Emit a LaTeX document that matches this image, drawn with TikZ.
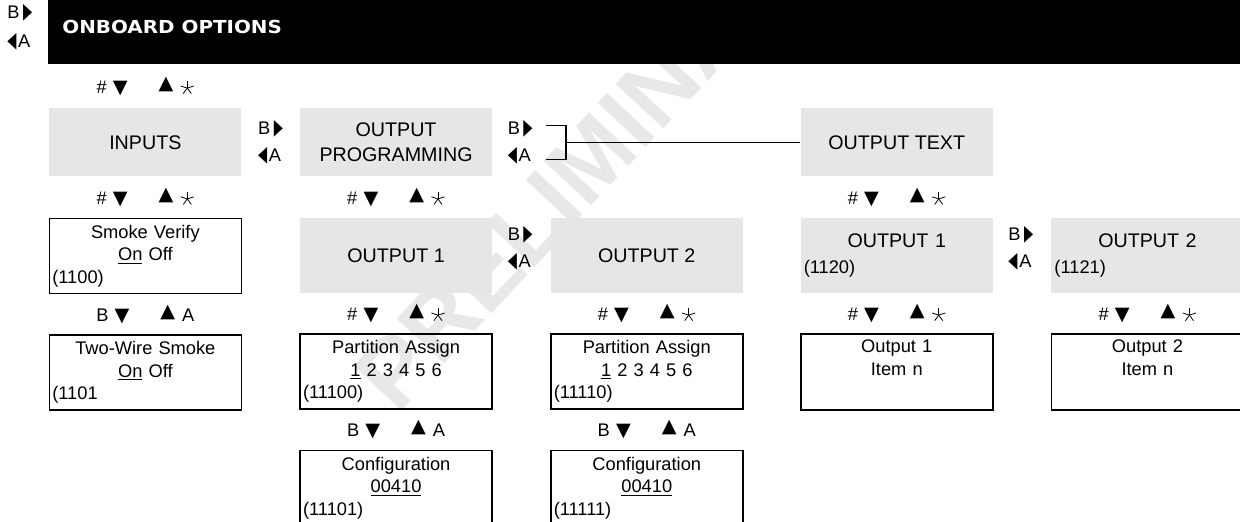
\documentclass[tikz,border=0pt]{standalone}
\usepackage{fontspec}
\setmainfont{Liberation Sans}
\newfontfamily\symfont{DejaVu Sans}
\newfontfamily\headfont{DejaVu Sans}
\usetikzlibrary{positioning,calc}
\definecolor{menugray}{RGB}{230,230,230}
\definecolor{wmgray}{RGB}{232,232,232}

\newcommand{\titlesize}{\fontsize{11.2}{14.2}\selectfont}
\newcommand{\bodysize}{\fontsize{10.4}{12.75}\selectfont}
\newcommand{\tridn}{{\symfont\scalebox{1.05}{▼}}}
\newcommand{\triup}{\raisebox{2.3pt}{\symfont\scalebox{1.05}{▲}}}
\newcommand{\trirt}{{\symfont\scalebox{0.65}[1.2]{▶}}}
\newcommand{\trilt}{{\symfont\scalebox{0.65}[1.2]{◀}}}
\newcommand{\keystar}{\tikz[baseline=0pt, line width=0.45pt]{\foreach \ang in {90,162,234,306,378} \draw (0,3pt) -- +(\ang:3.9pt);}}
\newcommand{\navdown}[2]{#1\hspace{3.5pt}\tridn\hspace{0.62cm}\triup\hspace{4pt}#2}
\newcommand{\navside}{B\hspace{2pt}\trirt\\\trilt\hspace{1pt}A}
\newcommand{\idcode}[1]{\makebox[\hsize][l]{#1}}

\begin{document}
\begin{tikzpicture}[node distance=0.8cm and 1.16cm]
\tikzstyle{menu} = [rectangle, fill=menugray, minimum width=3.84cm, minimum height=1.5cm, align=center, font=\titlesize];
\tikzstyle{entry} = [rectangle, draw, line width=0.85pt, text width=3.72cm, inner xsep=0.06cm, minimum height=1.5cm, align=center, font=\bodysize];
\tikzstyle{navkey} = [inner sep=0pt, font=\bodysize];
\tikzstyle{sidekey} = [inner sep=0pt, align=left, font=\fontsize{10.4}{15.3}\selectfont];

\useasboundingbox (0,0) rectangle (24.8,-10.42);
\clip (0,0) rectangle (24.8,-10.42);

% watermark
\node (wmark) [rotate=47, text=wmgray, font=\fontsize{54}{54}\selectfont\bfseries] at (11.9,-3.1) {PRELIMINARY};

% header bar
\node (header) [fill=black, inner sep=0pt, minimum width=23.84cm, minimum height=1.28cm, anchor=north west] at (0.96,0) {};
\node (title) [anchor=west, inner sep=0pt, text=white, font=\headfont\bfseries\fontsize{10.2}{12}\selectfont] at ([xshift=0.28cm,yshift=0.1cm]header.west) {\scalebox{1.11}[1]{ONBOARD OPTIONS}};
\node (headkey) [sidekey, font=\fontsize{10.4}{16.4}\selectfont, anchor=west] at (0.14,-0.55) {\navside};

% menus
\node (inputs) [menu, minimum height=1.36cm, anchor=north west] at (0.98,-2.16) {INPUTS};
\node (outprog) [menu, minimum height=1.36cm, right=of inputs] {OUTPUT\\PROGRAMMING};
\node (outtext) [menu, minimum height=1.36cm, right=6.16cm of outprog] {OUTPUT TEXT};

\node (smoke) [entry, below=0.82cm of inputs] {Smoke Verify\\\underline{On} Off\\\idcode{(1100)}};
\node (out1) [menu, below=0.82cm of outprog] {OUTPUT 1};
\node (out2) [menu, right=of out1] {OUTPUT 2};
\node (txt1) [menu, text width=3.72cm, inner xsep=0.06cm, below=0.82cm of outtext] {OUTPUT 1\\[1pt]{\bodysize\idcode{(1120)}}};
\node (txt2) [menu, text width=3.72cm, inner xsep=0.06cm, right=of txt1] {OUTPUT 2\\[1pt]{\bodysize\idcode{(1121)}}};

% entries
\node (twowire) [entry, below=of smoke] {Two-Wire Smoke\\\underline{On} Off\\\idcode{(1101}};
\node (part1) [entry, below=of out1] {Partition Assign\\\underline{1} 2 3 4 5 6\\\idcode{(11100)}};
\node (part2) [entry, below=of out2] {Partition Assign\\\underline{1} 2 3 4 5 6\\\idcode{(11110)}};
\node (item1) [entry, below=of txt1] {Output 1\\Item n\\\strut};
\node (item2) [entry, below=of txt2] {Output 2\\Item n\\\strut};
\node (config1) [entry, below=of part1] {Configuration\\\underline{00410}\\\idcode{(11101)}};
\node (config2) [entry, below=of part2] {Configuration\\\underline{00410}\\\idcode{(11111)}};

% up/down keys
\node (keytop) [navkey] at ($(inputs.north)!0.5!(inputs.north |- header.south)$) {\navdown{\#}{\keystar}};
\node (keyinputs) [navkey] at ($(inputs.south)!0.5!(smoke.north)$) {\navdown{\#}{\keystar}};
\node (keysmoke) [navkey] at ($(smoke.south)!0.5!(twowire.north)$) {\navdown{B}{A}};
\node (keyprog) [navkey] at ($(outprog.south)!0.5!(out1.north)$) {\navdown{\#}{\keystar}};
\node (keyout1) [navkey] at ($(out1.south)!0.5!(part1.north)$) {\navdown{\#}{\keystar}};
\node (keyout2) [navkey] at ($(out2.south)!0.5!(part2.north)$) {\navdown{\#}{\keystar}};
\node (keypart1) [navkey] at ($(part1.south)!0.5!(config1.north)$) {\navdown{B}{A}};
\node (keypart2) [navkey] at ($(part2.south)!0.5!(config2.north)$) {\navdown{B}{A}};
\node (keytext) [navkey] at ($(outtext.south)!0.5!(txt1.north)$) {\navdown{\#}{\keystar}};
\node (keytxt1) [navkey] at ($(txt1.south)!0.5!(item1.north)$) {\navdown{\#}{\keystar}};
\node (keytxt2) [navkey] at ($(txt2.south)!0.5!(item2.north)$) {\navdown{\#}{\keystar}};

% left/right keys
\node (side1) [sidekey, right=0.32cm of inputs] {\navside};
\node (side2) [sidekey, right=0.3cm of outprog] {\navside};
\node (side3) [sidekey, right=0.3cm of out1, yshift=0.15cm] {\navside};
\node (side4) [sidekey, right=0.3cm of txt1, yshift=0.15cm] {\navside};

% bracket to output text
\coordinate (brk) at ([xshift=0.66cm]side2.east);
\draw [line width=0.75pt] ([shift={(0.26cm,0.34cm)}]side2.east) -| (brk) |- ([shift={(0.26cm,-0.34cm)}]side2.east);
\draw [line width=0.75pt] (brk) -- (outtext.west);
\end{tikzpicture}
\end{document}
